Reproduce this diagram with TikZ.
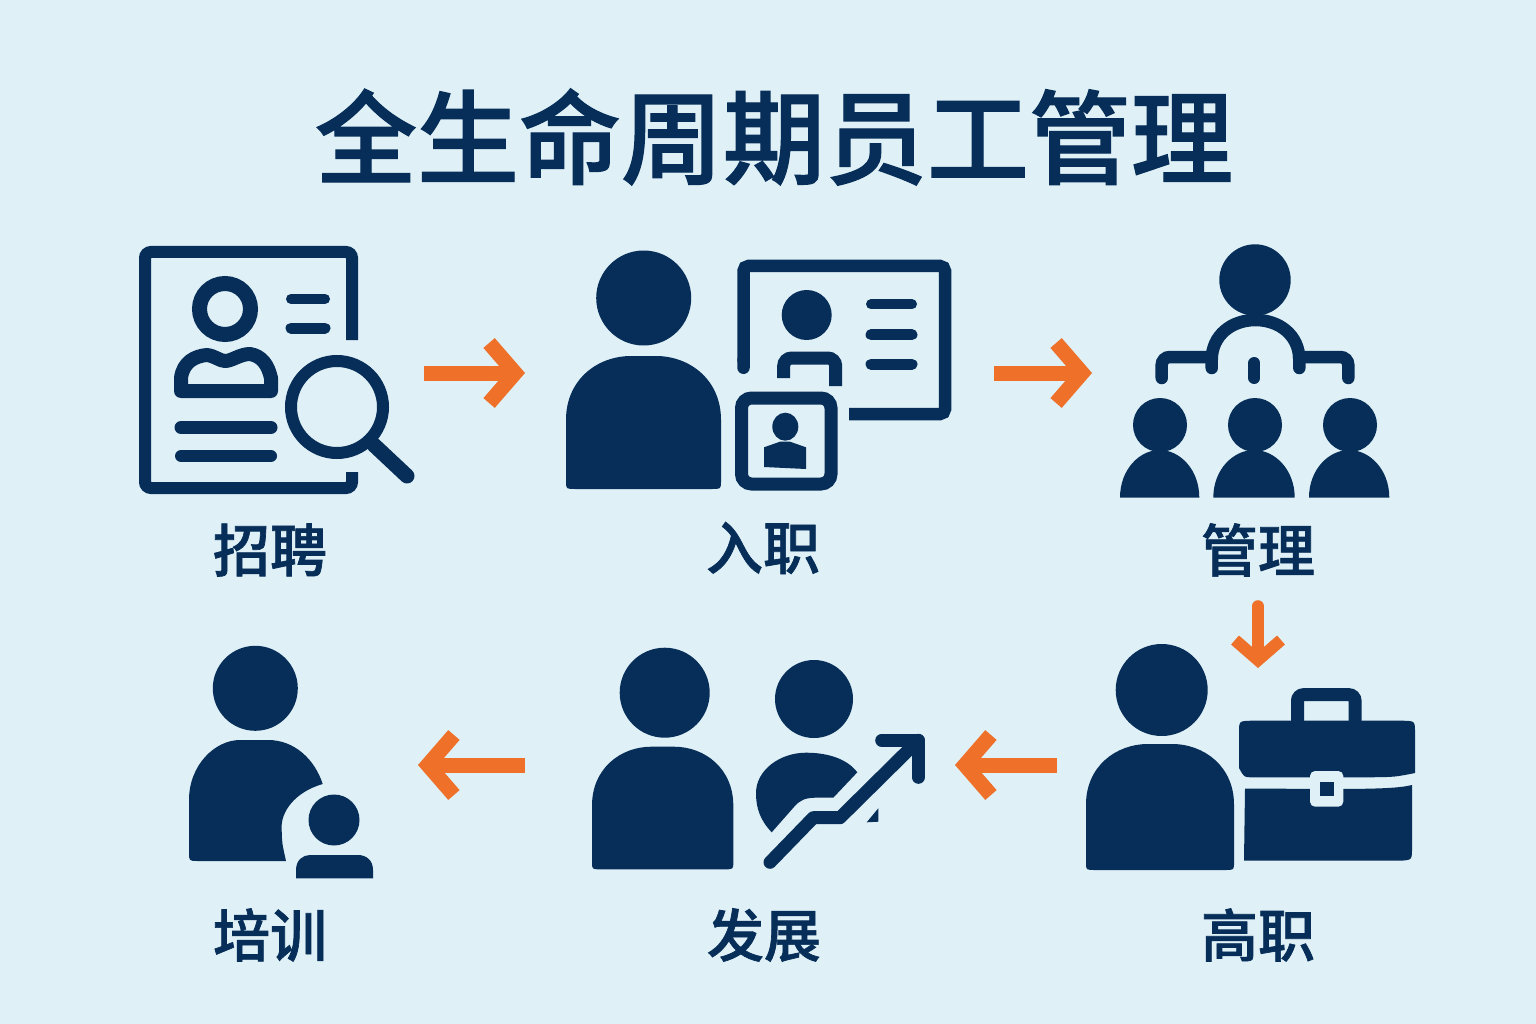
\documentclass[tikz,border=0pt]{standalone}
\usepackage{xcolor}
\usepackage{fontspec}
\newfontfamily\cjkfont[FakeBold=1.2]{Noto Sans CJK SC Medium}
\usepackage{tikz}
\usetikzlibrary{arrows.meta, positioning}
\definecolor{paleblue}{HTML}{DFF0F6}
\definecolor{navy}{HTML}{062E58}
\definecolor{flame}{HTML}{EE7029}
\tikzstyle{title} = [inner sep=0pt, text=navy, font=\cjkfont\fontsize{102}{102}\selectfont]
\tikzstyle{caption} = [inner sep=0pt, minimum height=112pt, text=navy, font=\cjkfont\fontsize{57}{57}\selectfont]
\tikzstyle{iconbox} = [rectangle, inner sep=0pt, outer sep=0pt]
\tikzstyle{arrow} = [draw=flame, line width=15pt, -{Straight Barb[length=26pt,width=60pt]}]
\tikzstyle{arrowdown} = [draw=flame, line width=12pt, line cap=round, -{Straight Barb[length=20pt,width=46pt]}]
\tikzstyle{solid} = [fill=navy]
\tikzstyle{stroke} = [draw=navy, line width=13pt]
\tikzstyle{bar} = [draw=navy, line width=11pt, line cap=round]
\newcommand{\bodyshape}[4]{\fill [solid, shift={(#1,#2)}, xscale=#3, yscale=#4] (0,.94) -- (0,.48) .. controls (0,.18) and (.2,0) .. (.42,0) -- (.58,0) .. controls (.8,0) and (1,.18) .. (1,.48) -- (1,.94) .. controls (1,1) .. (.94,1) -- (.06,1) .. controls (0,1) .. (0,.94) -- cycle;}
\newcommand{\domeshape}[4]{\fill [solid, shift={(#1,#2)}, xscale=#3, yscale=#4] (0,1) .. controls (0,.4) and (.25,0) .. (.5,0) .. controls (.75,0) and (1,.4) .. (1,1) -- cycle;}
\begin{document}
\begin{tikzpicture}[x=1pt, y=-1pt]

\fill [paleblue] (0,0) rectangle (1536,1024);
\useasboundingbox (0,0) rectangle (1536,1024);

\node (heading) [title] at (774,137) {全生命周期员工管理};

\node (recruit) [iconbox, minimum width=284pt, minimum height=250pt] at (282,373) {};
\node (onboard) [iconbox, minimum width=469pt, minimum height=250pt] at (759.5,373) {};
\node (manage) [iconbox, minimum width=308pt, minimum height=250pt] at (1246,373) {};
\node (leave) [iconbox, minimum width=402pt, minimum height=194pt] at (1258,765) {};
\node (develop) [iconbox, minimum width=430pt, minimum height=194pt] at (740,765) {};
\node (train) [iconbox, minimum width=238pt, minimum height=194pt] at (299,765) {};

\node (recruitname) [caption] at (270,550) {招聘};
\node (onboardname) [caption] at (763,548) {入职};
\node (managename) [caption] at (1258,550) {管理};
\node (leavename) [caption] at (1258,935) {高职};
\node (developname) [caption] at (764,935) {发展};
\node (trainname) [caption] at (270,935) {培训};

\draw [arrow] (recruit.east) -- (onboard.west);
\draw [arrow] (onboard.east) -- (manage.west);
\draw [arrowdown] (managename.south) -- (leave.north);
\draw [arrow] (leave.west) -- (develop.east);
\draw [arrow] (develop.west) -- (train.east);

\draw [stroke, line width=12pt, rounded corners=6pt] (352,340) -- (352,252) -- (145,252) -- (145,488) -- (352,488) -- (352,472);
\draw [stroke, line width=15pt] (225,309) circle (25.5);
\draw [stroke, line width=14pt, line join=round] (181,391) -- (181,378) .. controls (183,362) and (195,356) .. (207,355) .. controls (215,356) and (220,361) .. (225,361) .. controls (232,361) and (240,354) .. (250,354) .. controls (262,356) and (268,365) .. (271,378) -- (271,391) -- cycle;
\draw [bar, line width=10pt] (291,299) -- (325,299);
\draw [bar] (291,328) -- (325,328);
\draw [bar, line width=13pt] (181,427.5) -- (271,427.5);
\draw [bar, line width=12pt] (181,456) -- (271,456);
\draw [stroke, line width=12pt] (337,407) circle (46);
\draw [bar, line width=15pt] (374,445) -- (407,476);

\fill [solid] (643.7,298) circle (47.5);
\bodyshape{566}{356}{155}{133}
\draw [stroke, line width=12.5pt, rounded corners=5pt, {Round Cap[]}-] (743.5,374) -- (743.5,266) -- (945,266) -- (945,414) -- (849,414);
\fill [solid] (806.7,315) circle (25);
\draw [stroke, rounded corners=8pt] (783.7,378) -- (783.7,358) -- (835.7,358) -- (835.7,386);
\draw [bar, line width=10pt] (871,304.3) -- (912,304.3);
\draw [bar] (871,334.7) -- (912,334.7);
\draw [bar] (871,364.3) -- (912,364.3);
\draw [stroke, rounded corners=10pt] (741.5,398) rectangle (831,484);
\fill [solid] (785.3,426.7) ellipse (13 and 14);
\fill [solid] (764,447.3) -- (780,441.7) -- (790,441.7) -- (806,447.3) -- (806,469) -- (764,467) -- cycle;

\fill [solid] (1255,280) circle (35.7);
\draw [stroke, line width=12.5pt, line cap=round] (1211.7,368) -- (1211.7,360) .. controls (1211.7,335) and (1232,320) .. (1255.5,320) .. controls (1279,320) and (1299.3,335) .. (1299.3,360) -- (1299.3,368);
\draw [stroke, line width=12.5pt, line cap=round, rounded corners=8pt] (1211,357) -- (1161.7,357) -- (1161.7,378);
\draw [stroke, line width=12.5pt, line cap=round, rounded corners=8pt] (1299,357) -- (1348.3,357) -- (1348.3,378);
\draw [bar, line width=12pt] (1254.3,363) -- (1254.3,378);
\foreach \xhead/\xbody/\wbody in {1160/1120/79.3, 1255/1213.3/81.4, 1350/1309/80.3} {
  \fill [solid] (\xhead,425) circle (27);
  \domeshape{\xbody}{450}{\wbody}{47.7}
}

\fill [solid] (1161.7,690) circle (46);
\bodyshape{1086}{744}{148}{126}
\draw [stroke, rounded corners=6pt] (1297.5,722) -- (1297.5,694.7) -- (1355,694.7) -- (1355,722);
\fill [solid] (1239,733) .. controls (1239,721) .. (1251,720.7) -- (1403,720.7) .. controls (1415,721) .. (1415,733) -- (1415,773) .. controls (1395,777) .. (1370,777.3) -- (1250,777.3) .. controls (1244,777) .. (1239,768) -- cycle;
\fill [solid] (1245,788.5) -- (1330,789) .. controls (1380,789) and (1400,788) .. (1412,785) -- (1412,848) .. controls (1412,860) .. (1400,860.7) -- (1244,860.7) -- cycle;
\fill [paleblue, rounded corners=5pt] (1310,771) rectangle (1343.3,806.7);
\fill [solid] (1320,781.7) rectangle (1334,796);

\fill [solid] (664.7,692.7) circle (45);
\bodyshape{592}{746.7}{141.3}{122.6}
\fill [solid] (814,699) circle (39);
\fill [solid] (771.7,832.3) .. controls (760,820) and (756,808) .. (756,793) .. controls (756,770) and (780,752.7) .. (806,752.7) .. controls (830,752.7) and (848,760) .. (857.3,772.3) -- (833.3,797.7) -- (815,797.7) .. controls (805,798) and (800,800) .. (794,807) -- cycle;
\draw [stroke, line cap=round, line join=round] (770,862.3) -- (813.3,817.7) -- (840,817.7) -- (918.3,740.3);
\draw [stroke, line cap=round, line join=round] (881.7,740.3) -- (918.3,740.3) -- (918.3,777.3);
\fill [solid] (866.7,822.3) -- (878.3,808.3) -- (878.3,821.7) -- cycle;

\fill [solid] (255.3,688.3) circle (42.5);
\fill [solid] (189,852) -- (189,800) .. controls (189,765) and (215,740) .. (240,740) -- (268,740) .. controls (295,740) and (315,760) .. (322.7,784) .. controls (295,792) and (280,812) .. (281.7,830) .. controls (282,843) .. (286,861) -- (198,861) .. controls (189,861) .. (189,852) -- cycle;
\fill [solid] (334,820) circle (25.5);
\fill [solid] (296,878.3) -- (296,870) .. controls (296,860) and (303,855) .. (310,855) -- (358,855) .. controls (366,855) and (373,860) .. (373,870) -- (373,878.3) -- cycle;

\end{tikzpicture}
\end{document}
